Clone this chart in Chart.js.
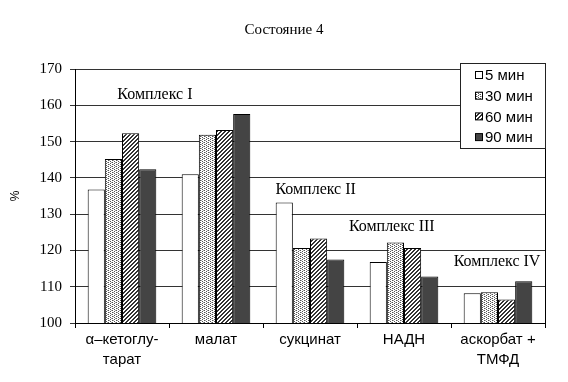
<!DOCTYPE html>
<html>
<head>
<meta charset="utf-8">
<script src="https://cdn.jsdelivr.net/npm/chart.js@4"></script>
<style>
  body { margin: 0; background: #fff; }
  #wrap { width: 568px; height: 382px; }
</style>
</head>
<body>
<div id="wrap"><canvas id="chart" width="568" height="382"></canvas></div>
<script>
const categories = [['α–кетоглу-', 'тарат'], 'малат', 'сукцинат', 'НАДН', ['аскорбат +', 'ТМФД']];
const seriesNames = ['5 мин', '30 мин', '60 мин', '90 мин'];
const min5 = [136.8, 141.0, 133.2, 116.8, 108.2];
const min30 = [145.2, 151.9, 120.7, 122.2, 108.5];
const min60 = [152.3, 153.2, 123.3, 120.7, 106.5];
const min90 = [142.4, 157.6, 117.5, 112.8, 111.5];
const yTicks = [100, 110, 120, 130, 140, 150, 160, 170];
const complexNames = ['Комплекс I', 'Комплекс II', 'Комплекс III', 'Комплекс IV'];
const complexLevels = [163, 136.6, 126.5, 116.9];

// where the complex captions sit, in category units
const complexAnchors = [0.35, 2.06, 2.87, 3.99];

const serif = '"Liberation Serif", "Times New Roman", serif';
const sans = '"Liberation Sans", Arial, sans-serif';

function makePattern(kind) {
  const c = document.createElement('canvas');
  const g = c.getContext('2d');
  c.width = 4; c.height = 4;
  g.fillStyle = '#fff'; g.fillRect(0, 0, 4, 4);
  if (kind === 'dots') {
    g.fillStyle = '#555';
    g.fillRect(0, 0, 1, 1); g.fillRect(2, 1, 1, 1);
    g.fillRect(0, 2, 1, 1); g.fillRect(2, 3, 1, 1);
    g.fillStyle = '#aaa';
    g.fillRect(1, 0, 1, 1); g.fillRect(3, 2, 1, 1);
  } else {
    g.fillStyle = '#333';
    for (let i = 0; i < 4; i++) {
      g.fillRect(i, 3 - i, 1, 1);
      g.fillRect((i + 1) % 4, 3 - i, 1, 1);
    }
  }
  return g.createPattern(c, 'repeat');
}

const fills = ['#ffffff', makePattern('dots'), makePattern('hatch'), '#444444'];
const seriesData = [min5, min30, min60, min90];

const extras = {
  id: 'extras',
  afterDraw(chart) {
    const ctx = chart.ctx;
    const a = chart.chartArea;
    const x = chart.scales.x, y = chart.scales.y;
    ctx.save();
    // right border
    ctx.strokeStyle = '#000';
    ctx.lineWidth = 1;
    ctx.beginPath();
    ctx.moveTo(a.right + 0.5, a.top);
    ctx.lineTo(a.right + 0.5, a.bottom);
    ctx.stroke();

    // title
    ctx.fillStyle = '#000';
    ctx.font = '15px ' + serif;
    ctx.textAlign = 'center';
    ctx.textBaseline = 'middle';
    ctx.fillText('Состояние 4', 284, 30);

    // complex captions
    ctx.font = '16px ' + serif;
    const step = x.getPixelForValue(1) - x.getPixelForValue(0);
    complexNames.forEach((t, i) => {
      const px = x.getPixelForValue(0) + complexAnchors[i] * step;
      ctx.fillText(t, px, y.getPixelForValue(complexLevels[i]));
    });

    // legend box
    const lx = 460.5, ly = 63.5, lw = 85, lh = 85;
    ctx.fillStyle = '#fff';
    ctx.fillRect(lx, ly, lw, lh);
    ctx.strokeStyle = '#222';
    ctx.strokeRect(lx, ly, lw, lh);
    ctx.font = '15px ' + sans;
    ctx.textAlign = 'left';
    seriesNames.forEach((n, i) => {
      const cy = 75 + i * 20.7;
      ctx.fillStyle = fills[i];
      ctx.fillRect(475.5, cy - 3.5, 7, 7);
      ctx.strokeStyle = '#000';
      ctx.strokeRect(475.5, cy - 3.5, 7, 7);
      ctx.fillStyle = '#000';
      ctx.fillText(n, 485, cy + 1);
    });
    ctx.restore();
  }
};

new Chart(document.getElementById('chart'), {
  type: 'bar',
  data: {
    labels: categories,
    datasets: seriesData.map((d, i) => ({
      label: seriesNames[i],
      data: d,
      backgroundColor: fills[i],
      borderColor: '#000',
      borderWidth: 1,
      borderSkipped: 'bottom',
      categoryPercentage: 0.73,
      barPercentage: 1.0
    }))
  },
  options: {
    responsive: false,
    animation: false,
    layout: { padding: { top: 69, right: 23, left: 0, bottom: 0 } },
    plugins: {
      legend: { display: false },
      tooltip: { enabled: false },
      title: { display: false }
    },
    scales: {
      x: {
        grid: { display: true, drawOnChartArea: false, offset: true, color: '#000', tickLength: 5 },
        border: { color: '#000' },
        ticks: {
          color: '#000',
          font: { family: sans, size: 15, lineHeight: 1.33 },
          maxRotation: 0,
          padding: 2
        },
        afterFit(s) { s.height = 59; }
      },
      y: {
        min: 100, max: 170,
        afterBuildTicks(s) { s.ticks = yTicks.map(v => ({ value: v })); },
        grid: { color: '#333', tickLength: 5 },
        border: { color: '#000' },
        ticks: {
          color: '#000',
          font: { family: 'Liberation Serif', size: 15 },
          padding: 8
        },
        title: {
          display: true, text: '%', color: '#000',
          font: { family: sans, size: 12 },
          padding: { top: 8, bottom: 10 }
        },
        afterFit(s) { s.width = 75; }
      }
    }
  },
  plugins: [extras]
});
</script>
</body>
</html>
